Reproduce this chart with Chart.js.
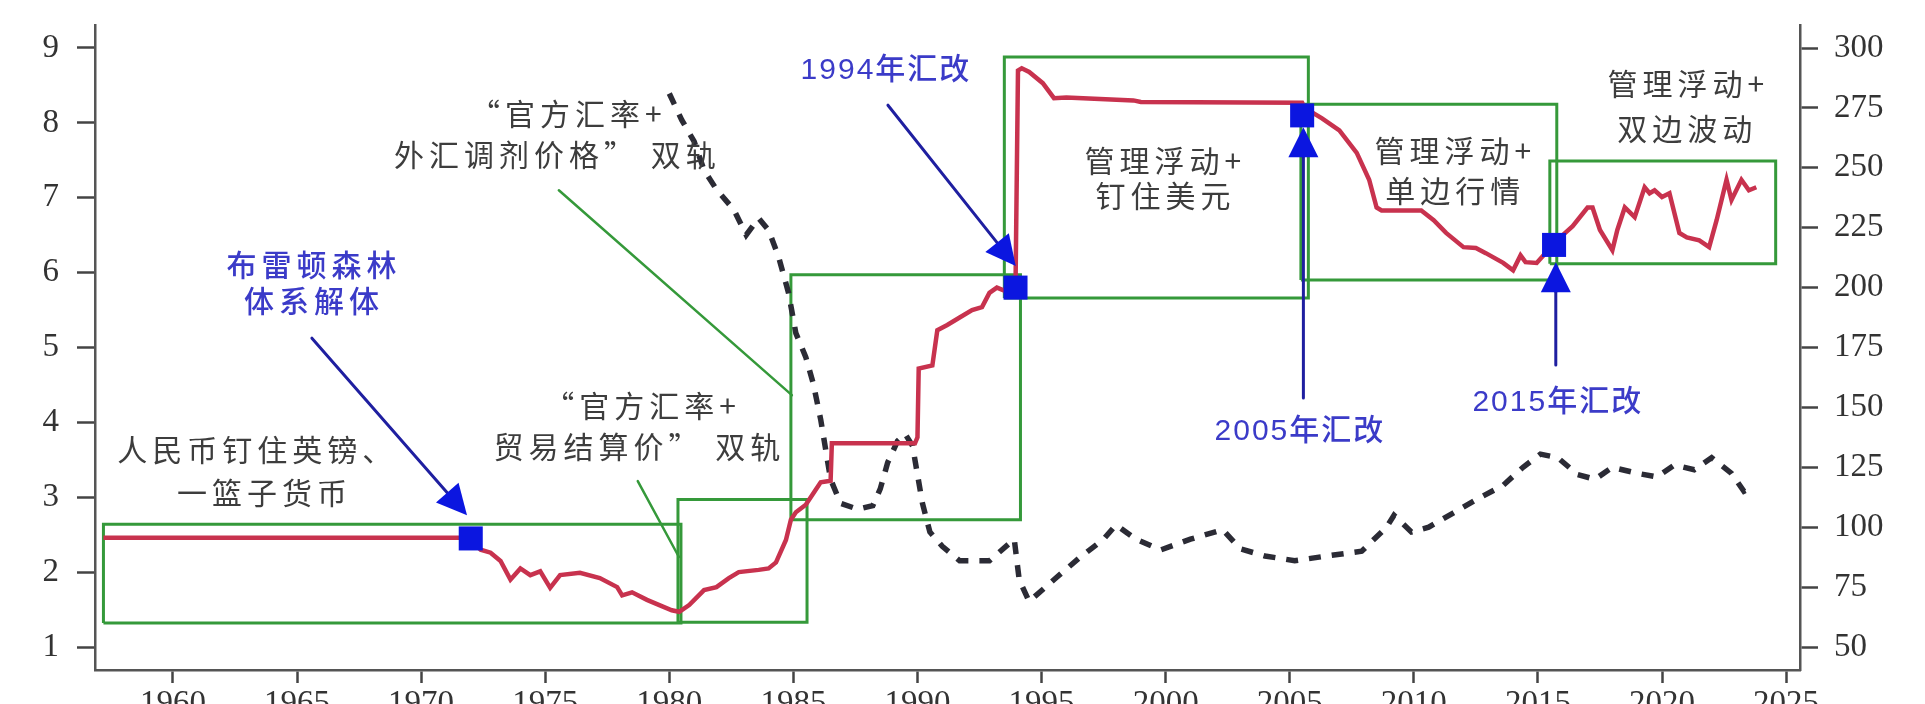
<!DOCTYPE html>
<html><head><meta charset="utf-8">
<script src="https://cdn.jsdelivr.net/npm/chart.js@4.4.0/dist/chart.umd.min.js"></script>
<style>html,body{margin:0;padding:0;background:#fff;overflow:hidden}#wrap{width:1925px;height:704px}</style>
</head><body><div id="wrap"><canvas id="c" width="1925" height="704"></canvas></div>
<script>
// ---- tick labels ----
const xTickYears = [1960,1965,1970,1975,1980,1985,1990,1995,2000,2005,2010,2015,2020,2025];
const leftTicks = [1,2,3,4,5,6,7,8,9];
const rightTicks = [50,75,100,125,150,175,200,225,250,275,300];

// ---- RMB/USD (left axis) ----
const rmbYears = [1957.2,1971.9,1972.4,1972.8,1973.2,1973.6,1974.0,1974.4,1974.8,1975.2,1975.6,1976.4,1977.2,1977.9,1978.1,1978.5,1979.1,1979.6,1980.1,1980.4,1980.8,1981.4,1981.9,1982.4,1982.8,1983.6,1984.0,1984.3,1984.7,1984.9,1985.1,1985.5,1985.9,1986.1,1986.5,1986.55,1989.9,1990.0,1990.05,1990.6,1990.8,1991.2,1991.7,1992.2,1992.6,1992.9,1993.2,1993.5,1993.95,1994.05,1994.2,1994.5,1995.05,1995.5,1996.0,1998.7,1999.0,2005.5,2005.6,2006.3,2007.0,2007.7,2008.2,2008.5,2008.7,2010.3,2010.8,2011.3,2012.0,2012.5,2012.9,2013.6,2014.0,2014.3,2014.5,2014.95,2015.6,2016.0,2016.4,2017.0,2017.2,2017.5,2018.0,2018.2,2018.5,2018.9,2019.3,2019.5,2019.7,2020.0,2020.3,2020.7,2021.0,2021.5,2021.9,2022.2,2022.6,2022.8,2023.2,2023.5,2023.8];
const rmbValues = [2.46,2.46,2.30,2.26,2.15,1.90,2.05,1.96,2.01,1.79,1.96,1.99,1.92,1.80,1.69,1.73,1.63,1.56,1.49,1.47,1.56,1.76,1.80,1.92,2.00,2.03,2.05,2.13,2.43,2.70,2.80,2.90,3.10,3.20,3.22,3.72,3.72,3.80,4.72,4.76,5.23,5.30,5.40,5.50,5.54,5.73,5.80,5.76,5.80,8.70,8.73,8.68,8.53,8.33,8.34,8.30,8.28,8.27,8.20,8.06,7.90,7.60,7.24,6.87,6.83,6.83,6.70,6.53,6.34,6.33,6.26,6.13,6.03,6.23,6.14,6.13,6.37,6.50,6.62,6.87,6.87,6.57,6.30,6.57,6.87,6.74,7.14,7.06,7.10,7.01,7.06,6.53,6.47,6.43,6.34,6.70,7.24,6.97,7.24,7.10,7.14];

// ---- effective exchange rate index (right axis, dashed) ----
const reerYears = [1980.0,1980.5,1981.0,1981.4,1981.9,1982.6,1983.1,1983.6,1984.0,1984.4,1984.8,1985.1,1985.5,1985.8,1986.1,1986.5,1986.9,1987.6,1988.2,1988.5,1988.8,1989.2,1989.5,1989.8,1990.0,1990.2,1990.5,1991.0,1991.7,1992.9,1993.9,1994.1,1994.5,1995.6,1996.5,1997.5,1998.0,1998.8,1999.8,2001.0,2002.3,2003.0,2004.0,2005.2,2006.5,2007.9,2008.9,2009.2,2009.9,2010.6,2011.6,2012.6,2013.6,2014.4,2015.1,2015.8,2016.6,2017.3,2018.0,2019.0,2019.8,2020.5,2021.3,2022.0,2022.8,2023.3,2023.6];
const reerValues = [281,270,261,249,241,232.5,222,229,224,213,198,181,171,160,145,120,110,107.5,109,116,127,136,139,134,122,110,98,92,86,86,95,78,69,79,87,95,101,95,90.5,95,99,91,88,86,88,90,100,105,98,100,106,112,117.5,125,130.5,129,122,120,125,122.5,121,126,124,129,122.5,115,116.5];

// ---- reform markers (left axis) ----
const reformYears = [1972.0, 1993.95, 2005.5, 2015.65];
const reformValues = [2.45, 5.80, 8.10, 6.37];

// ---- regime boxes [x0, x1, y0, y1] (years / left-axis values) ----
const regimeBoxes = [
  [1957.2, 1980.47, 1.32, 2.64],
  [1980.35, 1985.55, 1.33, 2.97],
  [1984.9, 1994.15, 2.70, 5.97],
  [1993.5, 2005.75, 5.66, 8.88],
  [2005.45, 2015.76, 5.90, 8.25],
  [2015.48, 2024.58, 6.12, 7.49]
];

// ---- annotations ----
const grayNotes = [
  ['“官方汇率+', 1975.83, 8.12],
  ['外汇调剂价格” 双轨', 1975.39, 7.57],
  ['人民币钉住英镑、', 1963.30, 3.63],
  ['一篮子货币', 1963.59, 3.056],
  ['“官方汇率+', 1978.82, 4.23],
  ['贸易结算价” 双轨', 1978.69, 3.67],
  ['管理浮动+', 1999.89, 7.50],
  ['钉住美元', 1999.89, 7.035],
  ['管理浮动+', 2011.57, 7.636],
  ['单边行情', 2011.57, 7.10],
  ['管理浮动+', 2020.96, 8.53],
  ['双边波动', 2020.92, 7.93]
];
const blueNotes = [
  ['布雷顿森林', 1965.60, 6.07],
  ['体系解体', 1965.60, 5.59],
  ['1994年汇改', 1988.65, 8.70],
  ['2005年汇改', 2005.33, 3.87],
  ['2015年汇改', 2015.72, 4.26]
];
const reformArrows = [
  [1965.60, 5.125, 1971.85, 2.76],
  [1988.81, 8.236, 1993.96, 6.087],
  [2005.55, 4.324, 2005.55, 7.943],
  [2015.72, 4.765, 2015.72, 6.14]
];
const leaderLines = [
  [1975.55, 7.10, 1984.94, 4.364],
  [1978.73, 3.216, 1980.39, 2.202]
];

const notesPlugin = {
  id: 'notes',
  afterDatasetsDraw(chart) {
    const ctx = chart.ctx, sx = chart.scales.x, sy = chart.scales.y;
    const P = (a, b) => [sx.getPixelForValue(a), sy.getPixelForValue(b)];
    ctx.save();
    ctx.lineCap = 'round';
    ctx.strokeStyle = '#35993a'; ctx.lineWidth = 2.5;
    leaderLines.forEach(([a, b, c, d]) => {
      const [x0, y0] = P(a, b), [x1, y1] = P(c, d);
      ctx.beginPath(); ctx.moveTo(x0, y0); ctx.lineTo(x1, y1); ctx.stroke();
    });
    reformArrows.forEach(([a, b, c, d]) => {
      const [x0, y0] = P(a, b), [x1, y1] = P(c, d);
      const ang = Math.atan2(y1 - y0, x1 - x0), L = 30, W = 15;
      const bx = x1 - L * Math.cos(ang), by = y1 - L * Math.sin(ang);
      ctx.strokeStyle = '#1f1fa0'; ctx.lineWidth = 3;
      ctx.beginPath(); ctx.moveTo(x0, y0); ctx.lineTo(bx, by); ctx.stroke();
      ctx.fillStyle = '#0b16e0';
      ctx.beginPath(); ctx.moveTo(x1, y1);
      ctx.lineTo(bx + W * Math.sin(ang), by - W * Math.cos(ang));
      ctx.lineTo(bx - W * Math.sin(ang), by + W * Math.cos(ang));
      ctx.closePath(); ctx.fill();
    });
    ctx.textAlign = 'center'; ctx.textBaseline = 'middle';
    ctx.font = '30px "Noto Sans CJK SC"';
    ctx.fillStyle = '#3d3d3d';
    ctx.letterSpacing = '5px';
    grayNotes.forEach(([t, a, b]) => { const [x, y] = P(a, b); ctx.fillText(t, x + 2.5, y); });
    ctx.font = '500 30px "Liberation Sans", "Noto Sans CJK SC"';
    ctx.fillStyle = '#3b3bc8';
    blueNotes.forEach(([t, a, b]) => {
      ctx.letterSpacing = /\d/.test(t) ? '2px' : '5px';
      const [x, y] = P(a, b); ctx.fillText(t, x + 2, y);
    });
    ctx.restore();
  }
};

const tickFont = { family: 'Liberation Serif', size: 33 };
const toXY = (xs, ys) => xs.map((x, i) => ({ x, y: ys[i] }));

new Chart(document.getElementById('c'), {
  type: 'line',
  data: {
    datasets: [
      { data: toXY(reformYears, reformValues), showLine: false, pointStyle: 'rect', pointRadius: 17, pointHoverRadius: 17,
        pointBackgroundColor: '#0b16e0', pointBorderWidth: 0, yAxisID: 'y', order: 0 },
      { data: toXY(rmbYears, rmbValues), borderColor: '#c8324e', borderWidth: 4.5, pointRadius: 0, yAxisID: 'y', order: 1, tension: 0 },
      { data: toXY(reerYears, reerValues), borderColor: '#2b2b35', borderWidth: 5.5, borderDash: [12, 11], pointRadius: 0, yAxisID: 'y2', order: 2, tension: 0 },
      ...regimeBoxes.map(([x0, x1, y0, y1]) => ({
        data: [{x: x0, y: y0}, {x: x1, y: y0}, {x: x1, y: y1}, {x: x0, y: y1}, {x: x0, y: y0}],
        borderColor: '#35993a', borderWidth: 3, pointRadius: 0, yAxisID: 'y', order: 3, borderJoinStyle: 'miter'
      }))
    ]
  },
  options: {
    responsive: false, animation: false, events: [],
    layout: { padding: { top: 25, left: 0, right: 0, bottom: 0 } },
    plugins: { legend: { display: false }, tooltip: { enabled: false } },
    scales: {
      x: {
        type: 'linear', min: 1956.86, max: 2025.56,
        afterBuildTicks: s => { s.ticks = xTickYears.map(v => ({ value: v })); },
        afterFit: s => { s.height = 34; s.paddingLeft = 0; s.paddingRight = 0; },
        grid: { drawOnChartArea: false, drawTicks: true, tickLength: 13, tickWidth: 2.5, tickColor: '#444' },
        border: { display: true, color: '#555', width: 2.5 },
        ticks: { font: tickFont, color: '#333', padding: 2, maxRotation: 0, autoSkip: false, callback: v => String(v) }
      },
      y: {
        type: 'linear', position: 'left', min: 0.693, max: 9.307,
        afterBuildTicks: s => { s.ticks = leftTicks.map(v => ({ value: v })); },
        afterFit: s => { s.width = 95; s.paddingTop = 0; s.paddingBottom = 0; },
        grid: { drawOnChartArea: false, drawTicks: true, tickLength: 18, tickWidth: 2.5, tickColor: '#444' },
        border: { display: true, color: '#555', width: 2.5 },
        ticks: { font: tickFont, color: '#333', padding: 18, callback: v => String(v) }
      },
      y2: {
        type: 'linear', position: 'right', min: 40.41, max: 309.6,
        afterBuildTicks: s => { s.ticks = rightTicks.map(v => ({ value: v })); },
        afterFit: s => { s.width = 125; s.paddingTop = 0; s.paddingBottom = 0; },
        grid: { drawOnChartArea: false, drawTicks: true, tickLength: 18, tickWidth: 2.5, tickColor: '#444' },
        border: { display: true, color: '#555', width: 2.5 },
        ticks: { font: tickFont, color: '#333', padding: 16, callback: v => String(v) }
      }
    }
  },
  plugins: [notesPlugin]
});
</script></body></html>
